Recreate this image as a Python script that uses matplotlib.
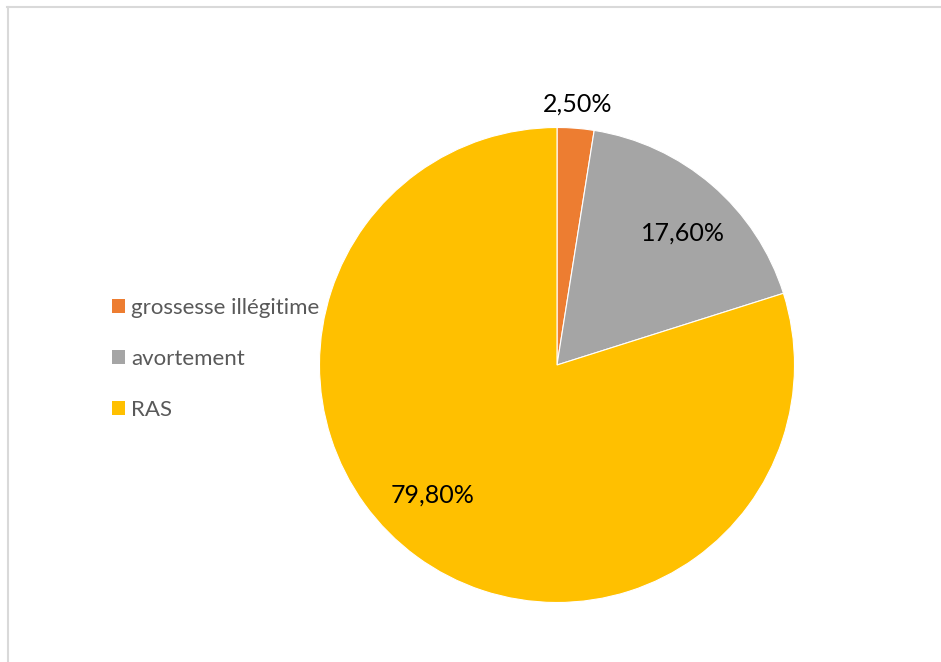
import numpy as np
import matplotlib.pyplot as plt
from matplotlib.lines import Line2D
from matplotlib.patches import Patch

# part des grossesses (en %)
labels = ['grossesse illégitime', 'avortement', 'RAS']
values = [2.5, 17.6, 79.8]
value_text = ['2,50%', '17,60%', '79,80%']
colors = ['#ED7D31', '#A5A5A5', '#FFC000']

W, H = 941, 662
fig = plt.figure(figsize=(W / 100, H / 100), dpi=100)
ax = fig.add_axes([0, 0, 1, 1])

# centre du camembert en pixels, rayon en pixels
cx, cy, R = 557, 365, 237.5

wedges, _ = ax.pie(values, colors=colors, startangle=90, counterclock=False,
                   radius=1, center=(0, 0), frame=True,
                   wedgeprops=dict(edgecolor='white', linewidth=0.8))
ax.set_xlim(-cx / R, (W - cx) / R)
ax.set_ylim(-(H - cy) / R, cy / R)
ax.set_aspect('auto')
ax.axis('off')

# étiquettes : distance au centre et petit décalage d'angle
label_r = [1.10, 0.77, 0.76]
label_dang = [0, -3, -7.5]
for w, txt, r, da in zip(wedges, value_text, label_r, label_dang):
    ang = np.deg2rad((w.theta1 + w.theta2) / 2 + da)
    ax.text(r * np.cos(ang), r * np.sin(ang), txt, ha='center', va='center',
            fontsize=18, color='black', family='Lato')

handles = [Patch(facecolor=c, edgecolor='none') for c in colors]
leg = fig.legend(handles, labels, loc='upper left',
                 bbox_to_anchor=(103 / W, 1 - 289 / H),
                 frameon=False, prop=dict(family='Lato', size=16),
                 handlelength=0.6, handleheight=0.6, handletextpad=0.25,
                 labelspacing=1.4, borderaxespad=0)
for t in leg.get_texts():
    t.set_color('#595959')

# cadre gris clair (haut et gauche)
fig.add_artist(Line2D([7 / W, 1], [1 - 6.5 / H, 1 - 6.5 / H],
                      color='#d9d9d9', lw=1.5, transform=fig.transFigure))
fig.add_artist(Line2D([8 / W, 8 / W], [0, 1 - 6.5 / H],
                      color='#d9d9d9', lw=1.5, transform=fig.transFigure))

fig.savefig('out.png', dpi=100, facecolor='white')
